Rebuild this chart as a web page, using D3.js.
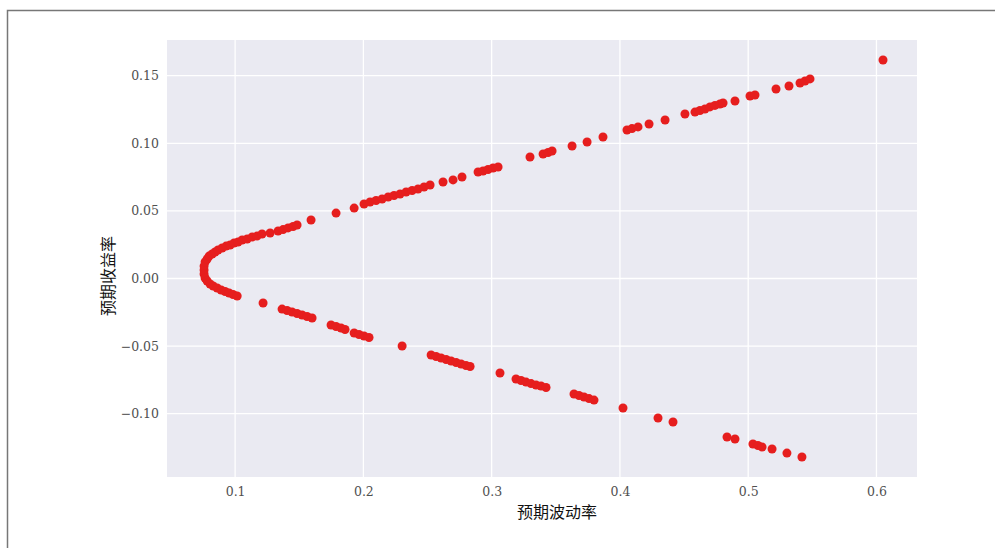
<!DOCTYPE html>
<html lang="zh">
<head>
  <meta charset="UTF-8">
  <title>预期收益率 vs 预期波动率</title>
  <style>
    body {
      margin: 0;
      background: #fff;
    }
    svg {
      display: block;
    }
    .tick text {
      font-family: 'DejaVu Serif', serif;
      font-size: 12.5px;
      fill: #505050;
    }
    .axis-title {
      font-family: 'Noto Sans CJK SC', sans-serif;
      font-size: 16px;
      fill: #111;
    }
  </style>
  <script src="https://d3js.org/d3.v7.min.js"></script>
</head>
<body>
  <svg></svg>
  <script>
    // Portfolio points (volatility, return)
    const volatility = [
      0.0758, 0.0758, 0.0766, 0.0782, 0.0797, 0.0821, 0.0844, 0.0867, 0.0899, 0.0930,
      0.0961, 0.0992, 0.1023, 0.1055, 0.1094, 0.1133, 0.1171, 0.1210, 0.1273, 0.1335,
      0.1374, 0.1413, 0.1452, 0.1483, 0.1592, 0.1787, 0.1928, 0.2005, 0.2052, 0.2099,
      0.2146, 0.2193, 0.2239, 0.2286, 0.2333, 0.2380, 0.2426, 0.2473, 0.2520, 0.2621,
      0.2699, 0.2769, 0.2894, 0.2933, 0.2972, 0.3011, 0.3050, 0.3299, 0.3401, 0.3440,
      0.3471, 0.3627, 0.3744, 0.3868, 0.4055, 0.4094, 0.4141, 0.4227, 0.4352, 0.4507,
      0.4585, 0.4624, 0.4663, 0.4702, 0.4741, 0.4780, 0.4804, 0.4897, 0.5014, 0.5053,
      0.5217, 0.5318, 0.5404, 0.5443, 0.5482, 0.6051,
      0.0758, 0.0766, 0.0782, 0.0805, 0.0829, 0.0860, 0.0891, 0.0922, 0.0953, 0.0984,
      0.1016, 0.1218, 0.1366, 0.1405, 0.1444, 0.1483, 0.1522, 0.1561, 0.1600, 0.1748,
      0.1787, 0.1826, 0.1857, 0.1928, 0.1966, 0.2005, 0.2044, 0.2302, 0.2528, 0.2567,
      0.2606, 0.2645, 0.2684, 0.2723, 0.2762, 0.2800, 0.2832, 0.3065, 0.3190, 0.3229,
      0.3268, 0.3307, 0.3346, 0.3385, 0.3424, 0.3642, 0.3681, 0.3720, 0.3759, 0.3798,
      0.4024, 0.4297, 0.4414, 0.4835, 0.4897, 0.5037, 0.5076, 0.5108, 0.5186, 0.5302,
      0.5419
    ];
    const returns = [
      0.0063, 0.0092, 0.0122, 0.0144, 0.0166, 0.0181, 0.0196, 0.0211, 0.0226, 0.0240,
      0.0248, 0.0263, 0.0270, 0.0285, 0.0292, 0.0307, 0.0314, 0.0329, 0.0337, 0.0351,
      0.0362, 0.0374, 0.0385, 0.0396, 0.0433, 0.0484, 0.0521, 0.0551, 0.0566, 0.0577,
      0.0588, 0.0603, 0.0614, 0.0625, 0.0640, 0.0651, 0.0662, 0.0677, 0.0692, 0.0714,
      0.0729, 0.0751, 0.0788, 0.0795, 0.0806, 0.0817, 0.0825, 0.0899, 0.0921, 0.0932,
      0.0943, 0.0980, 0.1010, 0.1047, 0.1098, 0.1109, 0.1121, 0.1143, 0.1172, 0.1217,
      0.1231, 0.1243, 0.1254, 0.1269, 0.1280, 0.1291, 0.1298, 0.1313, 0.1350, 0.1357,
      0.1402, 0.1424, 0.1446, 0.1461, 0.1476, 0.1616,
      0.0033, 0.0004, -0.0018, -0.0041, -0.0055, -0.0070, -0.0085, -0.0096, -0.0107, -0.0118,
      -0.0129, -0.0181, -0.0226, -0.0237, -0.0248, -0.0259, -0.0270, -0.0281, -0.0292, -0.0344,
      -0.0355, -0.0366, -0.0377, -0.0403, -0.0414, -0.0425, -0.0436, -0.0499, -0.0566, -0.0577,
      -0.0588, -0.0599, -0.0610, -0.0621, -0.0632, -0.0643, -0.0651, -0.0699, -0.0743, -0.0754,
      -0.0766, -0.0777, -0.0788, -0.0795, -0.0806, -0.0854, -0.0865, -0.0876, -0.0888, -0.0899,
      -0.0958, -0.1032, -0.1061, -0.1172, -0.1187, -0.1224, -0.1235, -0.1246, -0.1261, -0.1291,
      -0.1320
    ];
    const xTicks = [0.1, 0.2, 0.3, 0.4, 0.5, 0.6];
    const yTicks = [-0.10, -0.05, 0.00, 0.05, 0.10, 0.15];
    const xTitle = "预期波动率";
    const yTitle = "预期收益率";

    const width = 995, height = 548;
    const plot = { left: 167, right: 917, top: 40, bottom: 477 };

    const svg = d3.select("svg")
      .attr("width", width)
      .attr("height", height);

    // frame of the original screenshot
    svg.append("path")
      .attr("d", `M7.5,${height} V10.5 H${width}`)
      .attr("fill", "none")
      .attr("stroke", "#777")
      .attr("stroke-width", 1.5);

    const x = d3.scaleLinear().domain([0.0469, 0.6316]).range([plot.left, plot.right]);
    const y = d3.scaleLinear().domain([-0.1468, 0.1764]).range([plot.bottom, plot.top]);

    // seaborn-like panel
    svg.append("rect")
      .attr("x", plot.left)
      .attr("y", plot.top)
      .attr("width", plot.right - plot.left)
      .attr("height", plot.bottom - plot.top)
      .attr("fill", "#eaeaf2");

    // grid
    svg.append("g")
      .selectAll("line")
      .data(xTicks)
      .join("line")
      .attr("x1", d => x(d)).attr("x2", d => x(d))
      .attr("y1", plot.top).attr("y2", plot.bottom)
      .attr("stroke", "#fff")
      .attr("stroke-width", 1.3);

    svg.append("g")
      .selectAll("line")
      .data(yTicks)
      .join("line")
      .attr("x1", plot.left).attr("x2", plot.right)
      .attr("y1", d => y(d)).attr("y2", d => y(d))
      .attr("stroke", "#fff")
      .attr("stroke-width", 1.3);

    // axes (labels only, no tick marks / domain line)
    const fmtY = d3.format(".2f");
    svg.append("g")
      .attr("transform", `translate(0,${plot.bottom})`)
      .call(d3.axisBottom(x).tickValues(xTicks).tickSize(0).tickPadding(10).tickFormat(d3.format(".1f")))
      .call(g => g.select(".domain").remove());

    svg.append("g")
      .attr("transform", `translate(${plot.left},0)`)
      .call(d3.axisLeft(y).tickValues(yTicks).tickSize(0).tickPadding(8).tickFormat(d => fmtY(d).replace("-", "−")))
      .call(g => g.select(".domain").remove());

    // points
    const points = volatility.map((v, i) => ({ vol: v, ret: returns[i] }));
    svg.append("g")
      .selectAll("circle")
      .data(points)
      .join("circle")
      .attr("cx", d => x(d.vol))
      .attr("cy", d => y(d.ret))
      .attr("r", 4.5)
      .attr("fill", "#e61e1e");

    // axis titles
    svg.append("text")
      .attr("class", "axis-title")
      .attr("x", 557)
      .attr("y", 518)
      .attr("text-anchor", "middle")
      .text(xTitle);

    svg.append("text")
      .attr("class", "axis-title")
      .attr("transform", `translate(114,276) rotate(-90)`)
      .attr("text-anchor", "middle")
      .text(yTitle);
  </script>
</body>
</html>
